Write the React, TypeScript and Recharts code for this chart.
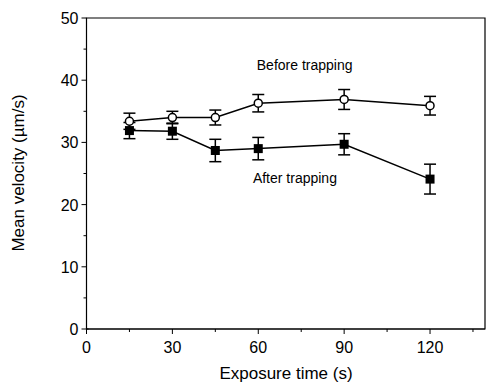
import {
  LineChart,
  Line,
  XAxis,
  YAxis,
  ErrorBar,
  ReferenceArea,
  ReferenceDot,
} from "recharts";

const times = [15, 30, 45, 60, 90, 120];
const beforeVelocity = [33.4, 34.0, 34.0, 36.3, 36.9, 35.9];
const beforeError = [1.3, 1.0, 1.2, 1.4, 1.6, 1.5];
const afterVelocity = [31.9, 31.8, 28.7, 29.0, 29.7, 24.1];
const afterError = [1.3, 1.3, 1.8, 1.8, 1.7, 2.4];

const xTicks = [0, 15, 30, 45, 60, 75, 90, 105, 120, 135];
const yTicks = [0, 5, 10, 15, 20, 25, 30, 35, 40, 45, 50];

const FONT = "'Liberation Sans', Arial, sans-serif";

const chartData = times.map((t, i) => ({
  time: t,
  before: beforeVelocity[i],
  beforeErr: beforeError[i],
  after: afterVelocity[i],
  afterErr: afterError[i],
}));

function XTick(props: any) {
  const { x, y, payload } = props;
  const v = payload.value;
  const major = v % 30 === 0;
  return (
    <g>
      <line x1={x} x2={x} y1={y} y2={y + (major ? 5 : 3)} stroke="#000" />
      {major && (
        <text x={x} y={y + 24} textAnchor="middle" fontSize={16} fill="#000">
          {v}
        </text>
      )}
    </g>
  );
}

function YTick(props: any) {
  const { x, y, payload } = props;
  const v = payload.value;
  const major = v % 10 === 0;
  return (
    <g>
      <line x1={x - (major ? 5 : 3)} x2={v === 0 ? x + 2 : x} y1={y} y2={y} stroke="#000" />
      {major && (
        <text x={x - 8} y={y + 6} textAnchor="end" fontSize={16} fill="#000">
          {v}
        </text>
      )}
    </g>
  );
}

function Square(props: any) {
  const { cx, cy, index } = props;
  return <rect key={index} x={cx - 4.5} y={cy - 4.5} width={9} height={9} fill="#000" />;
}

export default function App() {
  return (
    <div style={{ position: "absolute", left: 0, top: 0, background: "#fff" }}>
      <LineChart
        width={488}
        height={387}
        data={chartData}
        margin={{ top: 18, right: 3, bottom: 0, left: 0 }}
        style={{ fontFamily: FONT }}
      >
        <XAxis
          dataKey="time"
          type="number"
          domain={[0, 139.2]}
          ticks={xTicks}
          interval={0}
          tickSize={0}
          tickMargin={0}
          tick={<XTick />}
          height={58}
          stroke="#000"
          label={{
            content: () => (
              <text x={286} y={379} textAnchor="middle" fontSize={17} fill="#000" fontFamily={FONT}>
                Exposure time (s)
              </text>
            ),
          }}
        />
        <YAxis
          type="number"
          domain={[0, 50]}
          ticks={yTicks}
          interval={0}
          tickSize={0}
          tickMargin={0}
          tick={<YTick />}
          width={86.5}
          stroke="#000"
          label={{
            content: () => (
              <text
                x={24}
                y={173}
                textAnchor="middle"
                fontSize={17}
                fill="#000"
                fontFamily={FONT}
                transform="rotate(-90 24 173)"
              >
                Mean velocity (µm/s)
              </text>
            ),
          }}
        />
        <ReferenceArea
          x1={0}
          x2={139.2}
          y1={0}
          y2={50}
          fill="none"
          stroke="#000"
          strokeWidth={1.2}
          ifOverflow="visible"
        />
        <ReferenceDot
          x={76.2}
          y={42.4}
          r={0}
          ifOverflow="visible"
          label={{ value: "Before trapping", position: "center", fontSize: 14, fill: "#000" }}
        />
        <ReferenceDot
          x={72.8}
          y={24.3}
          r={0}
          ifOverflow="visible"
          label={{ value: "After trapping", position: "center", fontSize: 14, fill: "#000" }}
        />
        <Line
          dataKey="after"
          stroke="#000"
          strokeWidth={1.5}
          isAnimationActive={false}
          dot={<Square />}
        >
          <ErrorBar dataKey="afterErr" width={6} stroke="#000" strokeWidth={1.5} direction="y" />
        </Line>
        <Line
          dataKey="before"
          stroke="#000"
          strokeWidth={1.5}
          isAnimationActive={false}
          dot={{ r: 4, fill: "#fff", stroke: "#000", strokeWidth: 1.5 }}
        >
          <ErrorBar dataKey="beforeErr" width={6} stroke="#000" strokeWidth={1.5} direction="y" />
        </Line>
      </LineChart>
    </div>
  );
}
